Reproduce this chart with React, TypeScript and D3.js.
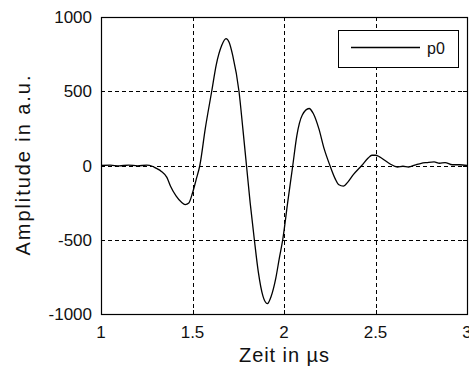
import React, { useEffect, useRef } from 'react';
import * as d3 from 'd3';

// time samples (µs) and amplitudes (a.u.)
const times = [
  1.0, 1.05, 1.1, 1.15, 1.2, 1.25, 1.28, 1.3, 1.33, 1.36, 1.38, 1.41, 1.44, 1.46, 1.48, 1.5, 1.52,
  1.54, 1.57, 1.605, 1.63, 1.66, 1.683, 1.7, 1.72, 1.754, 1.775, 1.795, 1.815, 1.838, 1.86, 1.885,
  1.909, 1.93, 1.955, 1.975, 1.993, 2.02, 2.048, 2.07, 2.1, 2.137, 2.16, 2.19, 2.22, 2.251, 2.28,
  2.3, 2.324, 2.35, 2.38, 2.425, 2.46, 2.48, 2.5, 2.52, 2.55, 2.58, 2.62, 2.65, 2.68, 2.72, 2.75,
  2.78, 2.82, 2.85, 2.88, 2.92, 2.96, 3.0,
];
const amplitudes = [
  0, 2, -3, 3, -2, 2, -5, -18, -40, -80, -140, -205, -248, -263, -252, -185, -95,
  0, 250, 500, 680, 810, 855, 830, 740, 500, 250, 0, -250, -500, -720, -880,
  -930, -880, -760, -620, -500, -250, 0, 200, 340, 384, 350, 250, 110, 0, -90,
  -130, -139, -110, -60, 0, 50, 69, 69, 60, 35, 10, -10, -5, -10, 5, 15,
  20, 25, 15, 20, 5, 5, 0,
];
const xTicks = [1, 1.5, 2, 2.5, 3];
const yTicks = [-1000, -500, 0, 500, 1000];
const seriesName = 'p0';

const W = 469;
const H = 369;
const FONT = 'Arial, "Liberation Sans", sans-serif';

export default function App() {
  const ref = useRef<SVGSVGElement | null>(null);

  useEffect(() => {
    if (!ref.current) return;
    const svg = d3.select(ref.current);
    svg.selectAll('*').remove();

    const left = 101, right = 467, top = 17, bottom = 314;
    const x = d3.scaleLinear().domain([1, 3]).range([left, right]);
    const y = d3.scaleLinear().domain([-1000, 1000]).range([bottom, top]);

    svg.append('rect').attr('width', W).attr('height', H).attr('fill', '#fff');

    // grid
    const grid = svg.append('g').attr('stroke', '#000').attr('stroke-dasharray', '4,3').attr('stroke-width', 1);
    grid.selectAll('line.gx')
      .data(xTicks)
      .enter()
      .append('line')
      .attr('x1', d => Math.round(x(d)) + 0.5)
      .attr('x2', d => Math.round(x(d)) + 0.5)
      .attr('y1', top)
      .attr('y2', bottom);
    grid.selectAll('line.gy')
      .data(yTicks)
      .enter()
      .append('line')
      .attr('x1', left)
      .attr('x2', right)
      .attr('y1', d => Math.round(y(d)) + 0.5)
      .attr('y2', d => Math.round(y(d)) + 0.5);

    // ticks (inward, on all four sides)
    const tl = 4;
    const ticks = svg.append('g').attr('stroke', '#000').attr('stroke-width', 1);
    xTicks.forEach(t => {
      const px = Math.round(x(t)) + 0.5;
      ticks.append('line').attr('x1', px).attr('x2', px).attr('y1', bottom).attr('y2', bottom - tl);
      ticks.append('line').attr('x1', px).attr('x2', px).attr('y1', top).attr('y2', top + tl);
    });
    yTicks.forEach(t => {
      const py = Math.round(y(t)) + 0.5;
      ticks.append('line').attr('x1', left).attr('x2', left + tl).attr('y1', py).attr('y2', py);
      ticks.append('line').attr('x1', right).attr('x2', right - tl).attr('y1', py).attr('y2', py);
    });

    // signal
    const line = d3
      .line<number>()
      .x((_, i) => x(times[i]))
      .y(d => y(d))
      .curve(d3.curveMonotoneX);
    svg.append('path')
      .datum(amplitudes)
      .attr('fill', 'none')
      .attr('stroke', '#000')
      .attr('stroke-width', 1.3)
      .attr('d', line);

    // box
    svg.append('rect')
      .attr('x', left + 0.5)
      .attr('y', top + 0.5)
      .attr('width', right - left)
      .attr('height', bottom - top)
      .attr('fill', 'none')
      .attr('stroke', '#000')
      .attr('stroke-width', 1.2);

    // tick labels
    const lab = svg.append('g').attr('font-family', FONT).attr('font-size', 17).attr('fill', '#111');
    lab.selectAll('text.xl')
      .data(xTicks)
      .enter()
      .append('text')
      .attr('x', d => x(d))
      .attr('y', bottom + 24)
      .attr('text-anchor', 'middle')
      .text(d => String(d));
    lab.selectAll('text.yl')
      .data(yTicks)
      .enter()
      .append('text')
      .attr('x', left - 9)
      .attr('y', d => y(d) + 6)
      .attr('text-anchor', 'end')
      .text(d => String(d));

    // axis titles
    lab.append('text')
      .attr('x', (left + right) / 2)
      .attr('y', 362)
      .attr('text-anchor', 'middle')
      .attr('font-size', 20)
      .attr('textLength', 90)
      .text('Zeit in µs');
    lab.append('text')
      .attr('transform', `translate(30,${(top + bottom) / 2}) rotate(-90)`)
      .attr('text-anchor', 'middle')
      .attr('font-size', 20)
      .attr('textLength', 180)
      .text('Amplitude in a.u.');

    // legend
    const lg = svg.append('g');
    lg.append('rect')
      .attr('x', 338.5)
      .attr('y', 30.5)
      .attr('width', 120)
      .attr('height', 37)
      .attr('fill', '#fff')
      .attr('stroke', '#000')
      .attr('stroke-width', 1);
    lg.append('line')
      .attr('x1', 351)
      .attr('x2', 420)
      .attr('y1', 47.5)
      .attr('y2', 47.5)
      .attr('stroke', '#000')
      .attr('stroke-width', 1.3);
    lg.append('text')
      .attr('x', 427)
      .attr('y', 54)
      .attr('font-family', FONT)
      .attr('font-size', 16)
      .attr('fill', '#111')
      .text(seriesName);
  }, []);

  return (
    <svg
      ref={ref}
      width={W}
      height={H}
      style={{ position: 'absolute', left: 0, top: 0, display: 'block' }}
    />
  );
}
